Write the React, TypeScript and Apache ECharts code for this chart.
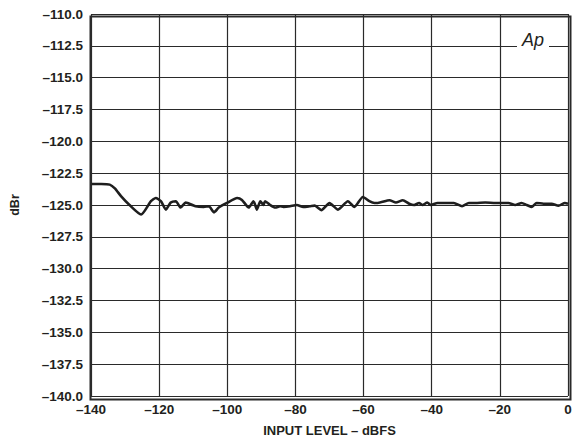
import React, { useEffect, useRef } from "react";
import * as echarts from "echarts";

const inputLevel = [
  -140, -137, -134.5, -133, -131.2, -128.7, -125.3, -122.4, -121.0, -119.5, -118.0, -116.6, -115.1, -113.7,
  -112.2, -111.7, -109.3, -106.9, -105.4, -103.9, -102.5, -100.1, -97.1, -95.7, -93.7, -92.3, -91.3, -90.3,
  -89.4, -88.9, -87.4, -85.9, -84.5, -83.5, -81.6, -79.6, -77.7, -75.8, -74.3, -72.4, -70.0, -67.5, -64.6,
  -62.7, -60.2, -58.3, -56.8, -55.8, -52.4, -50.5, -48.5, -46.6, -45.2, -43.7, -42.7, -41.3, -40.3, -38.3,
  -33.5, -31.1, -29.1, -27.2, -24.3, -21.3, -19.4, -17.5, -15.5, -13.6, -12.1, -10.6, -9.2, -7.2, -4.8,
  -2.8, -0.9, 0,
];
const dBrValues = [
  -123.35, -123.35, -123.4, -123.7, -124.3, -125.0, -125.75, -124.7, -124.45, -124.7, -125.36, -124.8,
  -124.7, -125.2, -124.8, -124.84, -125.1, -125.15, -125.1, -125.57, -125.2, -124.84, -124.45, -124.6,
  -125.2, -124.7, -125.36, -124.7, -125.0, -124.7, -125.0, -125.2, -125.1, -125.15, -125.1, -125.0,
  -125.15, -125.1, -125.05, -125.4, -124.85, -125.36, -124.7, -125.15, -124.37, -124.7, -124.84, -124.84,
  -124.63, -124.8, -124.63, -124.9, -125.0, -124.84, -125.0, -124.8, -125.0, -124.84, -124.84, -125.1,
  -124.84, -124.84, -124.8, -124.84, -124.84, -124.84, -125.0, -124.84, -125.0, -125.15, -124.84, -124.9,
  -124.9, -125.05, -124.84, -124.9,
];

const xAxisTitle = "INPUT LEVEL – dBFS";
const yAxisTitle = "dBr";

const fmtY = (v: number) => (v < 0 ? "–" + Math.abs(v).toFixed(1) : v.toFixed(1));
const fmtX = (v: number) => (v < 0 ? "–" + Math.abs(v) : String(v));

export default function App() {
  const ref = useRef<HTMLDivElement>(null);
  useEffect(() => {
    if (!ref.current) return;
    const chart = echarts.init(ref.current, null, { renderer: "svg" });
    const font = "'Liberation Sans', Arial, Helvetica, sans-serif";
    chart.setOption({
      animation: false,
      backgroundColor: "#ffffff",
      grid: { left: 88, right: 11, top: 14, bottom: 45, containLabel: false },
      xAxis: {
        type: "value",
        min: -140,
        max: 0,
        interval: 20,
        name: xAxisTitle,
        nameLocation: "middle",
        nameGap: 28,
        nameTextStyle: { fontFamily: font, fontWeight: "bold", fontSize: 13, color: "#231f20" },
        axisLine: { show: false },
        axisTick: { show: false },
        axisLabel: {
          formatter: fmtX,
          fontFamily: font,
          fontWeight: "bold",
          fontSize: 13.5,
          color: "#231f20",
          margin: 6,
        },
        splitLine: { show: true, lineStyle: { color: "#2a2a2a", width: 1.2 } },
      },
      yAxis: {
        type: "value",
        min: -140,
        max: -110,
        interval: 2.5,
        name: yAxisTitle,
        nameLocation: "middle",
        nameGap: 70,
        nameRotate: 90,
        nameTextStyle: { fontFamily: font, fontWeight: "bold", fontSize: 12.5, color: "#231f20" },
        axisLine: { show: false },
        axisTick: { show: false },
        axisLabel: {
          formatter: fmtY,
          fontFamily: font,
          fontWeight: "bold",
          fontSize: 13.5,
          color: "#231f20",
          margin: 8,
        },
        splitLine: { show: true, lineStyle: { color: "#2a2a2a", width: 1.2 } },
      },
      graphic: [
        {
          type: "rect",
          left: 88,
          top: 14,
          shape: { width: 480, height: 383 },
          style: { fill: "none", stroke: "#2a2a2a", lineWidth: 2 },
          z: 10,
        },
        {
          type: "text",
          x: 533,
          y: 40,
          style: {
            text: "Ap",
            fontFamily: font,
            fontStyle: "italic",
            fontSize: 18,
            fill: "#231f20",
            align: "center",
            verticalAlign: "middle",
            backgroundColor: "#ffffff",
            padding: [2, 5],
          },
          z: 11,
        },
      ],
      series: [
        {
          type: "line",
          data: inputLevel.map((x, i) => [x, dBrValues[i]]),
          showSymbol: false,
          smooth: 0.2,
          lineStyle: { color: "#1e1e1e", width: 2.6 },
          z: 5,
        },
      ],
    });
    return () => chart.dispose();
  }, []);
  return (
    <div
      ref={ref}
      style={{ position: "fixed", left: 0, top: 0, width: 579, height: 442 }}
    />
  );
}
